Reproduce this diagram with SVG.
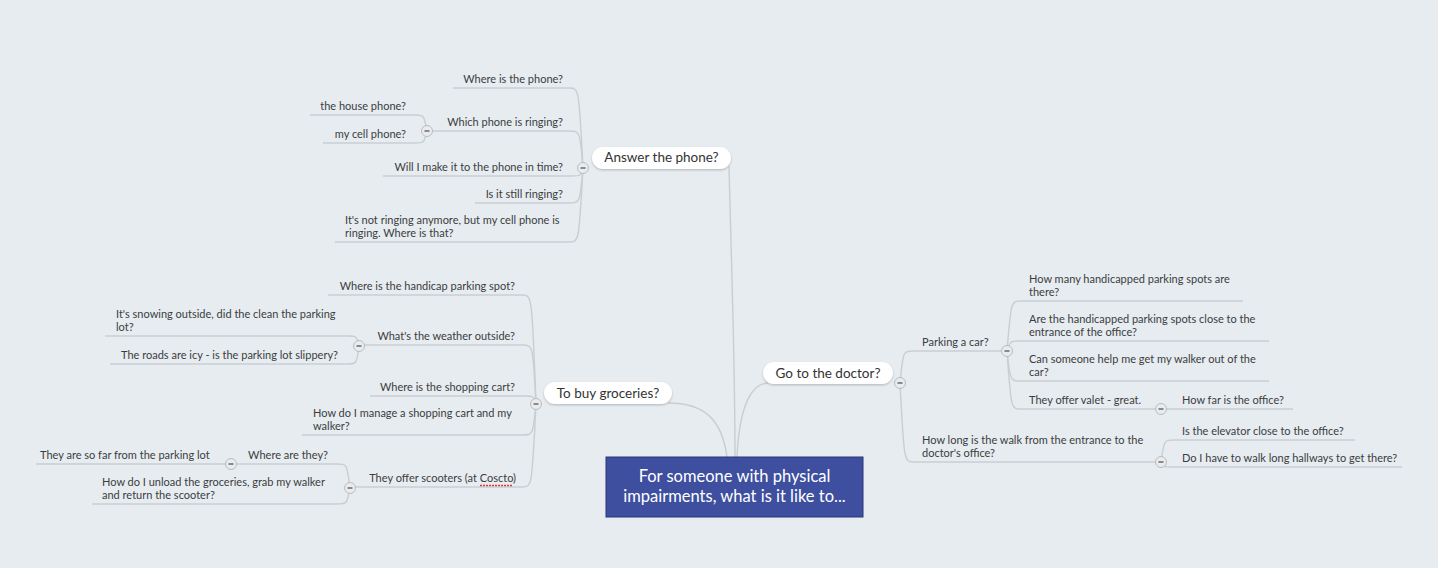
<svg xmlns="http://www.w3.org/2000/svg" width="1438" height="568" viewBox="0 0 1438 568">
<defs>
<style>
.bg{fill:#e7ecf0}
.ln{fill:none;stroke:#c9ced3;stroke-width:1.4}
.t{font-family:Lato,"Open Sans","Liberation Sans",sans-serif;font-size:11px;fill:#3a3d40}
.e{text-anchor:end}
.pill{fill:#ffffff;filter:url(#sh)}
.pt{font-family:Lato,"Open Sans","Liberation Sans",sans-serif;font-size:13.5px;fill:#333;text-anchor:middle}
.ct{font-family:Lato,"Open Sans","Liberation Sans",sans-serif;font-size:16.5px;fill:#ffffff;text-anchor:middle}
.cb circle{fill:#e9ebed;stroke:#b9bdc1;stroke-width:1}
.cb line{stroke:#555;stroke-width:1.3}
</style>
<filter id="sh" x="-10%" y="-30%" width="120%" height="170%">
<feDropShadow dx="0" dy="1.2" stdDeviation="1" flood-color="#8a9096" flood-opacity="0.55"/>
</filter>
</defs>
<rect class="bg" x="0" y="0" width="1438" height="568"/>

<g id="connectors">
<path class="ln" d="M735,457 C735,360 731,250 729,166"/>
<path class="ln" d="M727,457 C722,420 705,403 668,403"/>
<path class="ln" d="M737,457 C739,415 748,384 768,383"/>

<path class="ln" d="M583,168 C579,88 579,88 569,88 L453,88"/>
<path class="ln" d="M583,168 C580,131 580,131 569,131 L427,131"/>
<path class="ln" d="M583,168 C581,176 580,176 572,176 L383,176"/>
<path class="ln" d="M583,168 C580,203 580,203 569,203 L475,203"/>
<path class="ln" d="M583,168 C579,242 579,242 569,242 L335,242"/>
<path class="ln" d="M427,131 C424,115 424,115 415,115 L310,115"/>
<path class="ln" d="M427,131 C424,143 424,143 415,143 L323,143"/>

<path class="ln" d="M536,404 C532,295 532,295 522,295 L328,295"/>
<path class="ln" d="M536,404 C533,345 533,345 522,345 L359,345"/>
<path class="ln" d="M536,404 C534,396 533,396 525,396 L370,396"/>
<path class="ln" d="M536,404 C533,435 533,435 522,435 L302,435"/>
<path class="ln" d="M536,404 C532,487 532,487 522,487 L350,487"/>
<path class="ln" d="M359,346 C357,336 356,336 348,336 L105,336"/>
<path class="ln" d="M359,346 C357,364 356,364 348,364 L110,364"/>
<path class="ln" d="M350,488 C347,464 347,464 337,464 L231,464"/>
<path class="ln" d="M350,488 C347,504 347,504 337,504 L92,504"/>
<path class="ln" d="M231,464 L36,464"/>

<path class="ln" d="M900,383 C903,351 903,351 914,351 L1007,351"/>
<path class="ln" d="M900,383 C904,462 904,462 914,462 L1161,462"/>
<path class="ln" d="M1007,351 C1011,301 1011,301 1021,301 L1243,301"/>
<path class="ln" d="M1007,351 C1010,341 1011,341 1019,341 L1269,341"/>
<path class="ln" d="M1007,351 C1010,381 1011,381 1020,381 L1269,381"/>
<path class="ln" d="M1007,351 C1011,409 1011,409 1021,409 L1161,409"/>
<path class="ln" d="M1161,409 L1293,409"/>
<path class="ln" d="M1161,462 C1164,440 1164,440 1174,440 L1355,440"/>
<path class="ln" d="M1161,462 C1163,467 1164,467 1172,467 L1402,467"/>
</g>

<g id="central">
<rect x="606" y="457" width="257" height="60" fill="#3e4fa0" stroke="#2b3677" stroke-width="1"/>
<text class="ct" x="734.5" y="482">For someone with physical</text>
<text class="ct" x="734.5" y="502">impairments, what is it like to...</text>
</g>

<g id="answer-phone">
<rect class="pill" x="592" y="147" width="139" height="22" rx="11"/>
<text class="pt" x="661.5" y="162">Answer the phone?</text>
</g>
<g id="groceries">
<rect class="pill" x="544" y="382" width="128" height="22" rx="11"/>
<text class="pt" x="608" y="398">To buy groceries?</text>
</g>
<g id="doctor">
<rect class="pill" x="763" y="362" width="130" height="22" rx="11"/>
<text class="pt" x="828" y="378">Go to the doctor?</text>
</g>

<g id="phone-leaves">
<text class="t e" x="563" y="83">Where is the phone?</text>
<text class="t e" x="563" y="126">Which phone is ringing?</text>
<text class="t e" x="563" y="171">Will I make it to the phone in time?</text>
<text class="t e" x="563" y="198">Is it still ringing?</text>
<text class="t" x="345" y="224">It's not ringing anymore, but my cell phone is</text>
<text class="t" x="345" y="237">ringing. Where is that?</text>
<text class="t e" x="406" y="110">the house phone?</text>
<text class="t e" x="406" y="138">my cell phone?</text>
</g>

<g id="grocery-leaves">
<text class="t e" x="515" y="290">Where is the handicap parking spot?</text>
<text class="t e" x="515" y="340">What's the weather outside?</text>
<text class="t e" x="515" y="391">Where is the shopping cart?</text>
<text class="t" x="313" y="417">How do I manage a shopping cart and my</text>
<text class="t" x="313" y="430">walker?</text>
<text class="t e" x="516" y="482">They offer scooters (at Coscto)</text>
<line x1="480" y1="485.5" x2="512" y2="485.5" stroke="#e0393b" stroke-width="1.3" stroke-dasharray="2 1"/>
<text class="t" x="116" y="318">It's snowing outside, did the clean the parking</text>
<text class="t" x="116" y="331">lot?</text>
<text class="t e" x="338" y="359">The roads are icy - is the parking lot slippery?</text>
<text class="t e" x="328" y="459">Where are they?</text>
<text class="t" x="40" y="459">They are so far from the parking lot</text>
<text class="t" x="102" y="486">How do I unload the groceries, grab my walker</text>
<text class="t" x="102" y="499">and return the scooter?</text>
</g>

<g id="doctor-leaves">
<text class="t" x="922" y="346">Parking a car?</text>
<text class="t" x="922" y="444">How long is the walk from the entrance to the</text>
<text class="t" x="922" y="457">doctor's office?</text>
<text class="t" x="1029" y="283">How many handicapped parking spots are</text>
<text class="t" x="1029" y="296">there?</text>
<text class="t" x="1029" y="323">Are the handicapped parking spots close to the</text>
<text class="t" x="1029" y="336">entrance of the office?</text>
<text class="t" x="1029" y="363">Can someone help me get my walker out of the</text>
<text class="t" x="1029" y="376">car?</text>
<text class="t" x="1029" y="404">They offer valet - great.</text>
<text class="t" x="1182" y="404">How far is the office?</text>
<text class="t" x="1182" y="435">Is the elevator close to the office?</text>
<text class="t" x="1182" y="462">Do I have to walk long hallways to get there?</text>
</g>

<g id="collapse-buttons" class="cb">
<g><circle cx="583" cy="168" r="5.5"/><line x1="580.5" y1="168" x2="585.5" y2="168"/></g>
<g><circle cx="427" cy="131" r="5.5"/><line x1="424.5" y1="131" x2="429.5" y2="131"/></g>
<g><circle cx="536" cy="404" r="5.5"/><line x1="533.5" y1="404" x2="538.5" y2="404"/></g>
<g><circle cx="359" cy="346" r="5.5"/><line x1="356.5" y1="346" x2="361.5" y2="346"/></g>
<g><circle cx="350" cy="488" r="5.5"/><line x1="347.5" y1="488" x2="352.5" y2="488"/></g>
<g><circle cx="231" cy="464" r="5.5"/><line x1="228.5" y1="464" x2="233.5" y2="464"/></g>
<g><circle cx="900" cy="383" r="5.5"/><line x1="897.5" y1="383" x2="902.5" y2="383"/></g>
<g><circle cx="1007" cy="351" r="5.5"/><line x1="1004.5" y1="351" x2="1009.5" y2="351"/></g>
<g><circle cx="1161" cy="409" r="5.5"/><line x1="1158.5" y1="409" x2="1163.5" y2="409"/></g>
<g><circle cx="1161" cy="462" r="5.5"/><line x1="1158.5" y1="462" x2="1163.5" y2="462"/></g>
</g>
</svg>
